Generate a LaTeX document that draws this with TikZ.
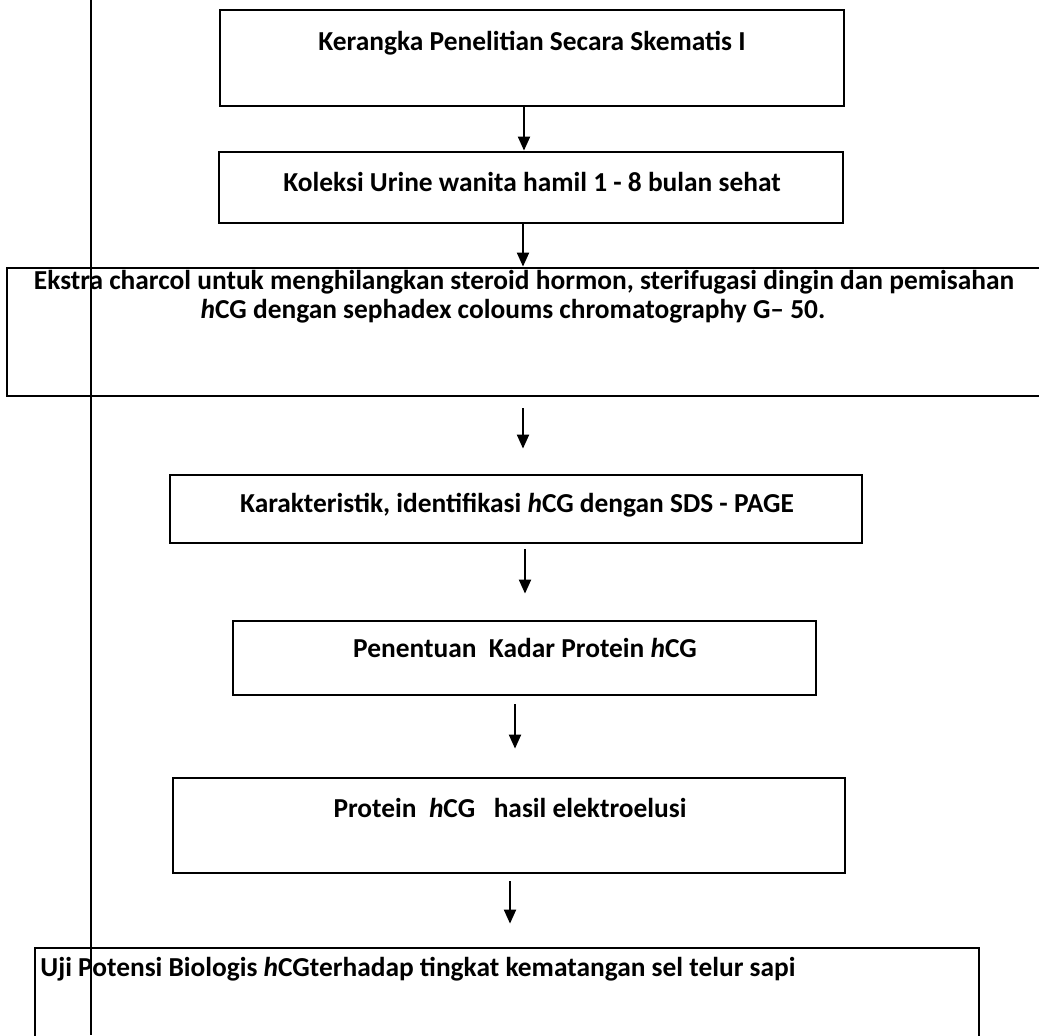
\documentclass[tikz,border=0pt]{standalone}
\usepackage{fontspec}
\setmainfont{Carlito}
\usetikzlibrary{arrows.meta,fit}
\tikzset{
  boxshape/.style={draw=black, line width=1.4pt, inner sep=0pt},
  lbl/.style={font=\fontsize{13.7}{14.5}\selectfont\bfseries, inner sep=0pt, anchor=base},
  arr/.style={draw=black, line width=1pt, -{Triangle[width=6pt,length=7pt]}},
  vline/.style={draw=black, line width=1pt},
}
\begin{document}
\begin{tikzpicture}[x=0.5pt,y=-0.5pt]
\path[use as bounding box] (0,0) rectangle (1039,1035);
\clip (0,0) rectangle (1039,1035);
\fill[white] (0,0) rectangle (1039,1035);

% boxes
\node[boxshape, fit={(220,10) (844,106)}] (b1) {};
\node[boxshape, fit={(219,152) (843,223)}] (b2) {};
\node[boxshape, fit={(7,268) (1080,396)}] (b3) {};
\node[boxshape, fit={(170,475) (862,543)}] (b4) {};
\node[boxshape, fit={(233,621) (816,695)}] (b5) {};
\node[boxshape, fit={(173,778) (845,873)}] (b6) {};
\node[boxshape, fit={(35,948) (979,1080)}] (b7) {};

% texts
\node[lbl] (t1) at (532,50) {Kerangka Penelitian Secara Skematis I};
\node[lbl] (t2) at (532,191) {Koleksi Urine wanita hamil 1 - 8 bulan sehat};
\node[lbl] (t3a) at (524,289) {Ekstra charcol untuk menghilangkan steroid hormon, sterifugasi dingin dan pemisahan};
\node[lbl] (t3b) at (513,318) {\textit{h}CG dengan sephadex coloums chromatography G-- 50.};
\node[lbl] (t4) at (517,512) {Karakteristik, identifikasi \textit{h}CG dengan SDS - PAGE};
\node[lbl] (t5) at (525,657) {Penentuan\ \ Kadar Protein \textit{h}CG};
\node[lbl] (t6) at (510,817) {Protein\ \ \textit{h}CG\ \ \ hasil elektroelusi};
\node[lbl, anchor=base west] (t7) at (40,976) {Uji Potensi Biologis \textit{h}CGterhadap tingkat kematangan sel telur sapi};

% arrow x positions
\coordinate (x1) at (524,0);
\coordinate (x2) at (523,0);
\coordinate (x3) at (523,0);
\coordinate (x4) at (525,0);
\coordinate (x5) at (515,0);
\coordinate (x6) at (510,0);

\draw[arr] (b1.south -| x1) -- (b2.north -| x1);
\draw[arr] (b2.south -| x2) -- (b3.north -| x2);
\draw[arr] ([yshift=-5.5pt]b3.south -| x3) -- ([yshift=12.5pt]b4.north -| x3);
\draw[arr] ([yshift=-2.5pt]b4.south -| x4) -- ([yshift=13pt]b5.north -| x4);
\draw[arr] ([yshift=-4pt]b5.south -| x5) -- ([yshift=14pt]b6.north -| x5);
\draw[arr] ([yshift=-3.5pt]b6.south -| x6) -- ([yshift=11.5pt]b7.north -| x6);

% vertical line
\coordinate (vt) at (91,0);
\coordinate (vb) at (91,1035);
\draw[vline] (vt) -- (vb);
\end{tikzpicture}
\end{document}
